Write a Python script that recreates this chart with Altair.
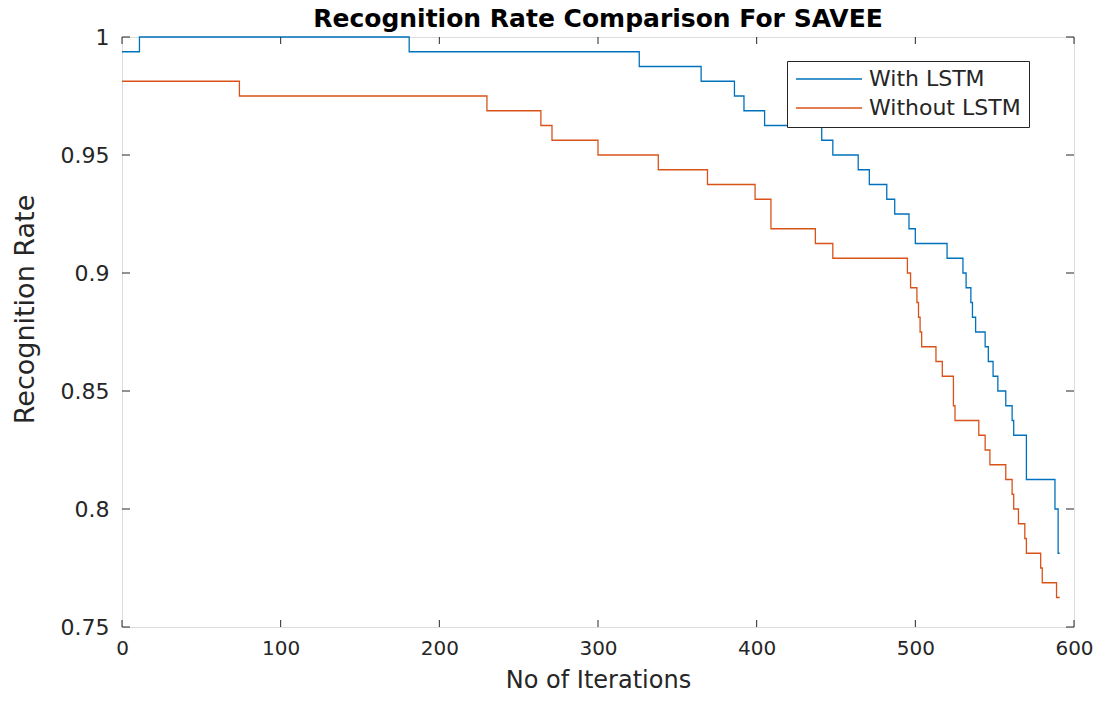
import altair as alt
import pandas as pd

# Step breakpoints (iteration where the new value starts)
with_x = [0, 11, 181, 326, 365, 386, 392, 405, 441, 448, 464, 471, 482, 487, 496, 500,
          520, 530, 532, 535, 536, 538, 544, 546, 549, 552, 557, 561, 562, 570, 588, 590, 591]
with_y = [0.99375, 1.0, 0.99375, 0.9875, 0.98125, 0.975, 0.96875, 0.9625, 0.95625, 0.95,
          0.94375, 0.9375, 0.93125, 0.925, 0.91875, 0.9125, 0.90625, 0.9, 0.89375, 0.8875,
          0.88125, 0.875, 0.86875, 0.8625, 0.85625, 0.85, 0.84375, 0.8375, 0.83125, 0.8125,
          0.8, 0.78125, 0.78125]

without_x = [0, 74, 230, 264, 271, 300, 338, 369, 399, 409, 437, 448, 495, 497, 501, 502,
             503, 504, 513, 517, 524, 525, 540, 544, 547, 557, 561, 562, 565, 569, 570, 579,
             580, 589, 591]
without_y = [0.98125, 0.975, 0.96875, 0.9625, 0.95625, 0.95, 0.94375, 0.9375, 0.93125,
             0.91875, 0.9125, 0.90625, 0.9, 0.89375, 0.8875, 0.88125, 0.875, 0.86875, 0.8625,
             0.85625, 0.84375, 0.8375, 0.83125, 0.825, 0.81875, 0.8125, 0.80625, 0.8, 0.79375,
             0.7875, 0.78125, 0.775, 0.76875, 0.7625, 0.7625]

series_names = ["With LSTM", "Without LSTM"]
series_colors = ["#0072BD", "#D95319"]

x_ticks = [0, 100, 200, 300, 400, 500, 600]
y_ticks = [0.75, 0.8, 0.85, 0.9, 0.95, 1.0]

W, H = 952, 590
FONT = "DejaVu Sans"
TXT = "#262626"

df = pd.concat([
    pd.DataFrame({"iter": with_x, "rate": with_y, "series": series_names[0]}),
    pd.DataFrame({"iter": without_x, "rate": without_y, "series": series_names[1]}),
])

xscale = alt.Scale(domain=[0, 600], nice=False, zero=False)
yscale = alt.Scale(domain=[0.75, 1.0], nice=False, zero=False)

lines = alt.Chart(df).mark_line(interpolate="step-after", strokeWidth=1.3).encode(
    x=alt.X("iter:Q", scale=xscale,
            axis=alt.Axis(values=x_ticks, format="d", tickSize=0, domain=False, grid=False,
                          labelFlush=False, labelPadding=11, labelFontSize=20, labelFont=FONT,
                          labelColor=TXT,
                          title="No of Iterations", titleFontSize=24, titleFont=FONT,
                          titleFontWeight="normal", titleColor=TXT,
                          titleX=W / 2, titleY=60, titleBaseline="alphabetic",
                          titleAlign="center")),
    y=alt.Y("rate:Q", scale=yscale,
            axis=alt.Axis(values=y_ticks, format="~g", tickSize=0, domain=False, grid=False,
                          labelFlush=False, labelPadding=13, labelFontSize=22, labelFont=FONT,
                          labelColor=TXT,
                          title="Recognition Rate", titleFontSize=27, titleFont=FONT,
                          titleFontWeight="normal", titleColor=TXT,
                          titleX=-89, titleY=272, titleAngle=270,
                          titleBaseline="alphabetic", titleAlign="center")),
    color=alt.Color("series:N", sort=series_names,
                    scale=alt.Scale(domain=series_names, range=series_colors),
                    legend=alt.Legend(title=None, orient="none", legendX=665, legendY=24,
                                      symbolType="stroke", symbolSize=4356, symbolStrokeWidth=1.3,
                                      clipHeight=20,
                                      labelFontSize=22, labelFont=FONT, labelColor=TXT,
                                      labelOffset=6, rowPadding=7, padding=8,
                                      strokeColor="#262626", fillColor="white")),
)

xt = pd.DataFrame({"t": x_ticks})
yt = pd.DataFrame({"t": y_ticks})

bottom_ticks = alt.Chart(xt).mark_rule(color=TXT).encode(
    x=alt.X("t:Q", scale=xscale), y=alt.value(H), y2=alt.value(H - 7))
top_ticks = alt.Chart(xt).mark_rule(color=TXT).encode(
    x=alt.X("t:Q", scale=xscale), y=alt.value(0), y2=alt.value(7))
left_ticks = alt.Chart(yt).mark_rule(color=TXT).encode(
    y=alt.Y("t:Q", scale=yscale), x=alt.value(0), x2=alt.value(8))
right_ticks = alt.Chart(yt).mark_rule(color=TXT).encode(
    y=alt.Y("t:Q", scale=yscale), x=alt.value(W), x2=alt.value(W - 8))

chart = alt.layer(lines, bottom_ticks, top_ticks, left_ticks, right_ticks).properties(
    width=W, height=H,
    autosize=alt.AutoSizeParams(type="none"),
    padding={"left": 114, "top": 29, "right": 19, "bottom": 66},
    title=alt.Title("Recognition Rate Comparison For SAVEE", fontSize=25, font=FONT,
                    fontWeight="bold", color="black", anchor="middle", offset=6, dy=12),
).configure_view(stroke=TXT, strokeWidth=1).configure(background="white")

chart.save("out.html", embed_options={"renderer": "svg", "actions": False})
